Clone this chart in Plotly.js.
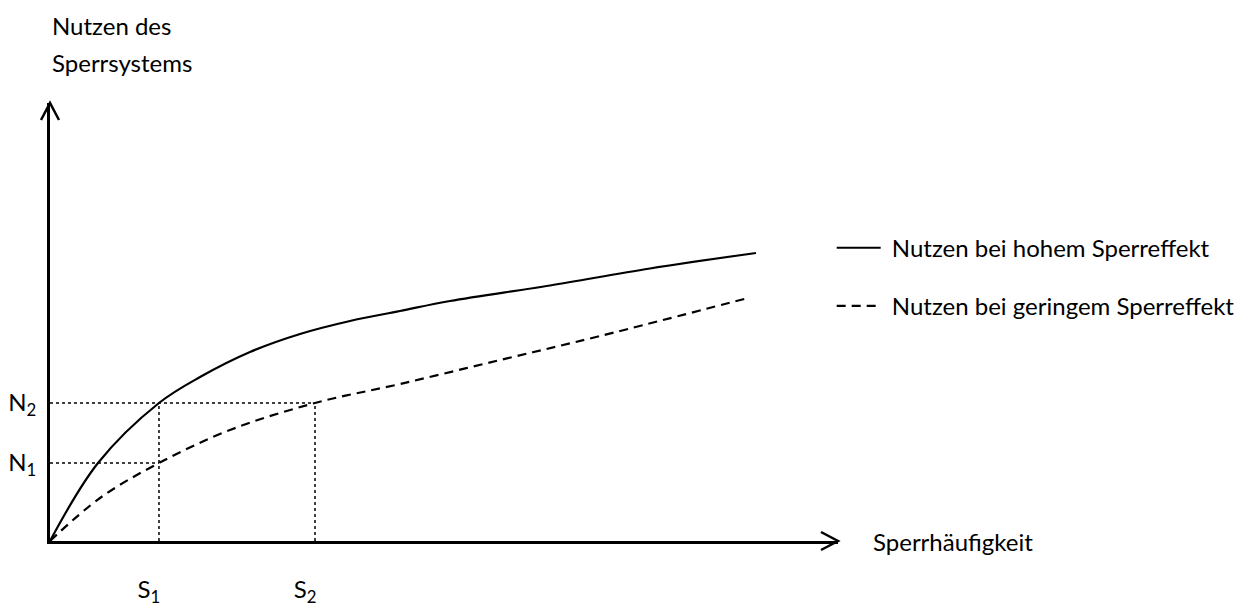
<!DOCTYPE html>
<html>
<head>
<meta charset="utf-8">
<script src="https://cdn.plot.ly/plotly-3.0.1.min.js"></script>
<style>html,body{margin:0;padding:0;background:#fff;}#chart{width:1254px;height:610px;}</style>
</head>
<body>
<div id="chart"></div>
<script>
// Axis ranges (arbitrary units, schematic chart)
const xRange = [0, 10];
const yRange = [0, 10];

// Marked positions on the axes
const sVals = [1.383, 3.363];          // S1, S2
const sLabels = ['S<sub>1</sub>', 'S<sub>2</sub>'];
const nVals = [1.781, 3.151];          // N1, N2
const nLabels = ['N<sub>1</sub>', 'N<sub>2</sub>'];

// Curve: Nutzen bei hohem Sperreffekt
const hochX = [0, 0.609, 1.383, 1.904, 2.538, 3.173, 3.807, 4.442, 5.076, 6.345, 7.614, 8.959];
const hochY = [0, 1.781, 3.151, 3.744, 4.315, 4.726, 5.023, 5.251, 5.479, 5.834, 6.222, 6.575];

// Curve: Nutzen bei geringem Sperreffekt
const geringX = [0, 0.635, 1.383, 2.284, 3.363, 4.442, 5.711, 6.980, 8.858];
const geringY = [0, 0.982, 1.781, 2.534, 3.151, 3.584, 4.132, 4.680, 5.548];

const seriesNames = ['Nutzen bei hohem Sperreffekt', 'Nutzen bei geringem Sperreffekt'];
const xTitle = 'Sperrhäufigkeit';
const yTitleLines = ['Nutzen des', 'Sperrsystems'];

const FONT = 'Lato, "Open Sans", sans-serif';
const FS = 24;

// dotted guide lines built from S/N values
const guideX = [xRange[0], sVals[0], null, xRange[0], sVals[1], null, sVals[0], sVals[0], null, sVals[1], sVals[1]];
const guideY = [nVals[0], nVals[0], null, nVals[1], nVals[1], null, yRange[0], nVals[1], null, yRange[0], nVals[1]];

const traces = [
  {x: guideX, y: guideY, type: 'scatter', mode: 'lines', showlegend: false, hoverinfo: 'skip',
   line: {color: '#000', width: 1.5, dash: 'dot'}},
  {x: hochX, y: hochY, type: 'scatter', mode: 'lines', name: '\u00a0' + seriesNames[0], legendgroup: 'a',
   line: {color: '#000', width: 2.2, shape: 'spline', smoothing: 1}},
  {x: geringX, y: geringY, type: 'scatter', mode: 'lines', name: '\u00a0' + seriesNames[1], legendgroup: 'b',
   line: {color: '#000', width: 2.2, shape: 'spline', smoothing: 1, dash: '9px,6px'}}
];

const layout = {
  width: 1254, height: 610,
  margin: {l: 50, r: 416, t: 103, b: 69, pad: 0},
  paper_bgcolor: '#fff', plot_bgcolor: '#fff',
  font: {family: FONT, size: FS, color: '#000'},
  showlegend: true,
  legend: {x: 0.992, xanchor: 'left', y: 0.72, yanchor: 'top', bgcolor: 'rgba(0,0,0,0)',
           font: {family: FONT, size: FS, color: '#000'}, tracegroupgap: 24, traceorder: 'grouped', itemwidth: 44},
  xaxis: {range: xRange, showgrid: false, zeroline: false, showline: true, linewidth: 3, linecolor: '#000',
          ticks: '', tickvals: sVals, ticktext: sLabels, ticklabelstandoff: 25, ticklabelshift: -10,
          tickfont: {family: FONT, size: FS, color: '#000'}, fixedrange: true},
  yaxis: {range: yRange, showgrid: false, zeroline: false, showline: true, linewidth: 3, linecolor: '#000',
          ticks: '', tickvals: nVals, ticktext: nLabels, ticklabelstandoff: 6,
          tickfont: {family: FONT, size: FS, color: '#000'}, fixedrange: true},
  shapes: [
    {type: 'path', xref: 'paper', yref: 'paper', xsizemode: 'pixel', ysizemode: 'pixel',
     xanchor: 1, yanchor: 0, path: 'M-17,9L0,0L-17,-9',
     line: {color: '#000', width: 2.5}},
    {type: 'path', xref: 'paper', yref: 'paper', xsizemode: 'pixel', ysizemode: 'pixel',
     xanchor: 0, yanchor: 1, path: 'M-9,-17L0,0L9,-17',
     line: {color: '#000', width: 2.5}}
  ],
  annotations: [
    {text: yTitleLines[0], xref: 'paper', yref: 'paper', x: 0, y: 1, xanchor: 'left', yanchor: 'middle',
     yshift: 78, showarrow: false, font: {family: FONT, size: FS, color: '#000'}},
    {text: yTitleLines[1], xref: 'paper', yref: 'paper', x: 0, y: 1, xanchor: 'left', yanchor: 'middle',
     yshift: 41, showarrow: false, font: {family: FONT, size: FS, color: '#000'}},
    {text: xTitle, xref: 'paper', yref: 'paper', x: 1, y: 0, xanchor: 'left', yanchor: 'middle',
     xshift: 33, showarrow: false, font: {family: FONT, size: FS, color: '#000'}}
  ]
};

Plotly.newPlot('chart', traces, layout, {displayModeBar: false, staticPlot: true});
</script>
</body>
</html>
